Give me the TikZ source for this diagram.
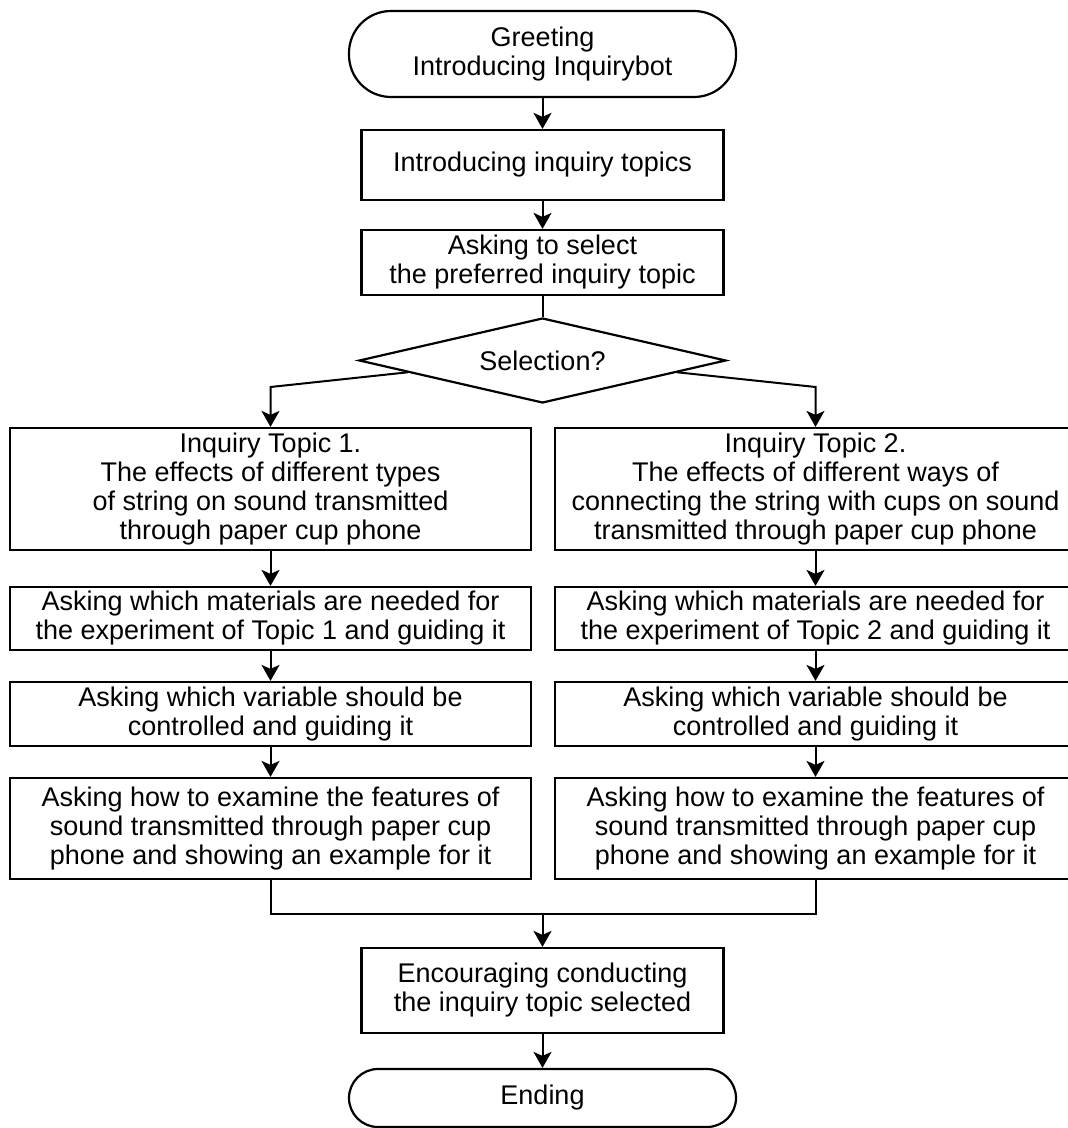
\documentclass[tikz,border=0pt]{standalone}
\usepackage{fontspec}
\setmainfont{Liberation Sans}
\usetikzlibrary{arrows.meta,shapes.geometric}
\begin{document}
\begin{tikzpicture}[x=0.5pt,y=-0.5pt]
	\tikzstyle{Box} = [rectangle, draw, line width=1.1pt, align=center, inner sep=0pt, font=\fontsize{13.5pt}{14.5pt}\selectfont]
	\tikzstyle{Terminal} = [Box, minimum width=193.5pt]
	\tikzstyle{Middle} = [Box, minimum width=181pt]
	\tikzstyle{Side} = [Box, minimum width=260.5pt]
	\tikzstyle{Decision} = [diamond, draw, line width=1.1pt, aspect=4.3, inner sep=0pt, minimum width=183.5pt, minimum height=42.5pt, font=\fontsize{13.5pt}{14.5pt}\selectfont]
	\tikzstyle{Flow} = [line width=1pt, -{Stealth[length=8pt,width=9pt,inset=2pt]}]
	\tikzstyle{Line} = [line width=1pt]
	\clip (0,0) rectangle (1068,1128);
	\fill [white] (0,0) rectangle (1068,1128);
	\node (1) at (542.5,54) [Terminal, rounded corners=21pt, minimum height=43pt] {Greeting\\Introducing Inquirybot};
	\node (2) at (542.5,165) [Middle, minimum height=35pt] {Introducing inquiry topics};
	\node (3) at (542.5,262.5) [Middle, minimum height=32.5pt] {Asking to select\\the preferred inquiry topic};
	\node (4) at (542.5,360.5) [Decision] {Selection?};
	\node (5) at (270.5,489) [Side, minimum height=61pt] {Inquiry Topic 1.\\The effects of different types\\of string on sound transmitted\\through paper cup phone};
	\node (6) at (815.5,489) [Side, minimum height=61pt] {Inquiry Topic 2.\\The effects of different ways of\\connecting the string with cups on sound\\transmitted through paper cup phone};
	\node (7) at (270.5,618.5) [Side, minimum height=31.5pt] {Asking which materials are needed for\\the experiment of Topic 1 and guiding it};
	\node (8) at (815.5,618.5) [Side, minimum height=31.5pt] {Asking which materials are needed for\\the experiment of Topic 2 and guiding it};
	\node (9) at (270.5,714) [Side, minimum height=32pt] {Asking which variable should be\\controlled and guiding it};
	\node (10) at (815.5,714) [Side, minimum height=32pt] {Asking which variable should be\\controlled and guiding it};
	\node (11) at (270.5,828.5) [Side, minimum height=50.5pt] {Asking how to examine the features of\\sound transmitted through paper cup\\phone and showing an example for it};
	\node (12) at (815.5,828.5) [Side, minimum height=50.5pt] {Asking how to examine the features of\\sound transmitted through paper cup\\phone and showing an example for it};
	\node (13) at (542.5,990.5) [Middle, minimum height=42.5pt] {Encouraging conducting\\the inquiry topic selected};
	\node (14) at (542.5,1098) [Terminal, rounded corners=14.5pt, minimum height=29pt] {Ending};
	\coordinate (c1) at (270.5,387);
	\coordinate (c2) at (815.5,387);
	\coordinate (m1) at (270.5,914);
	\coordinate (m2) at (815.5,914);
	\coordinate (m3) at (542.5,914);
	\draw [Flow] (1) to (2);
	\draw [Flow] (2) to (3);
	\draw [Line] (3) to (4);
	\draw [Flow] (4.185.5) to (c1) to (5);
	\draw [Flow] (4.-5.5) to (c2) to (6);
	\draw [Flow] (5) to (7);
	\draw [Flow] (7) to (9);
	\draw [Flow] (9) to (11);
	\draw [Flow] (6) to (8);
	\draw [Flow] (8) to (10);
	\draw [Flow] (10) to (12);
	\draw [Line] (11) to (m1) to (m2) to (12);
	\draw [Flow] (m3) to (13);
	\draw [Flow] (13) to (14);
\end{tikzpicture}
\end{document}
